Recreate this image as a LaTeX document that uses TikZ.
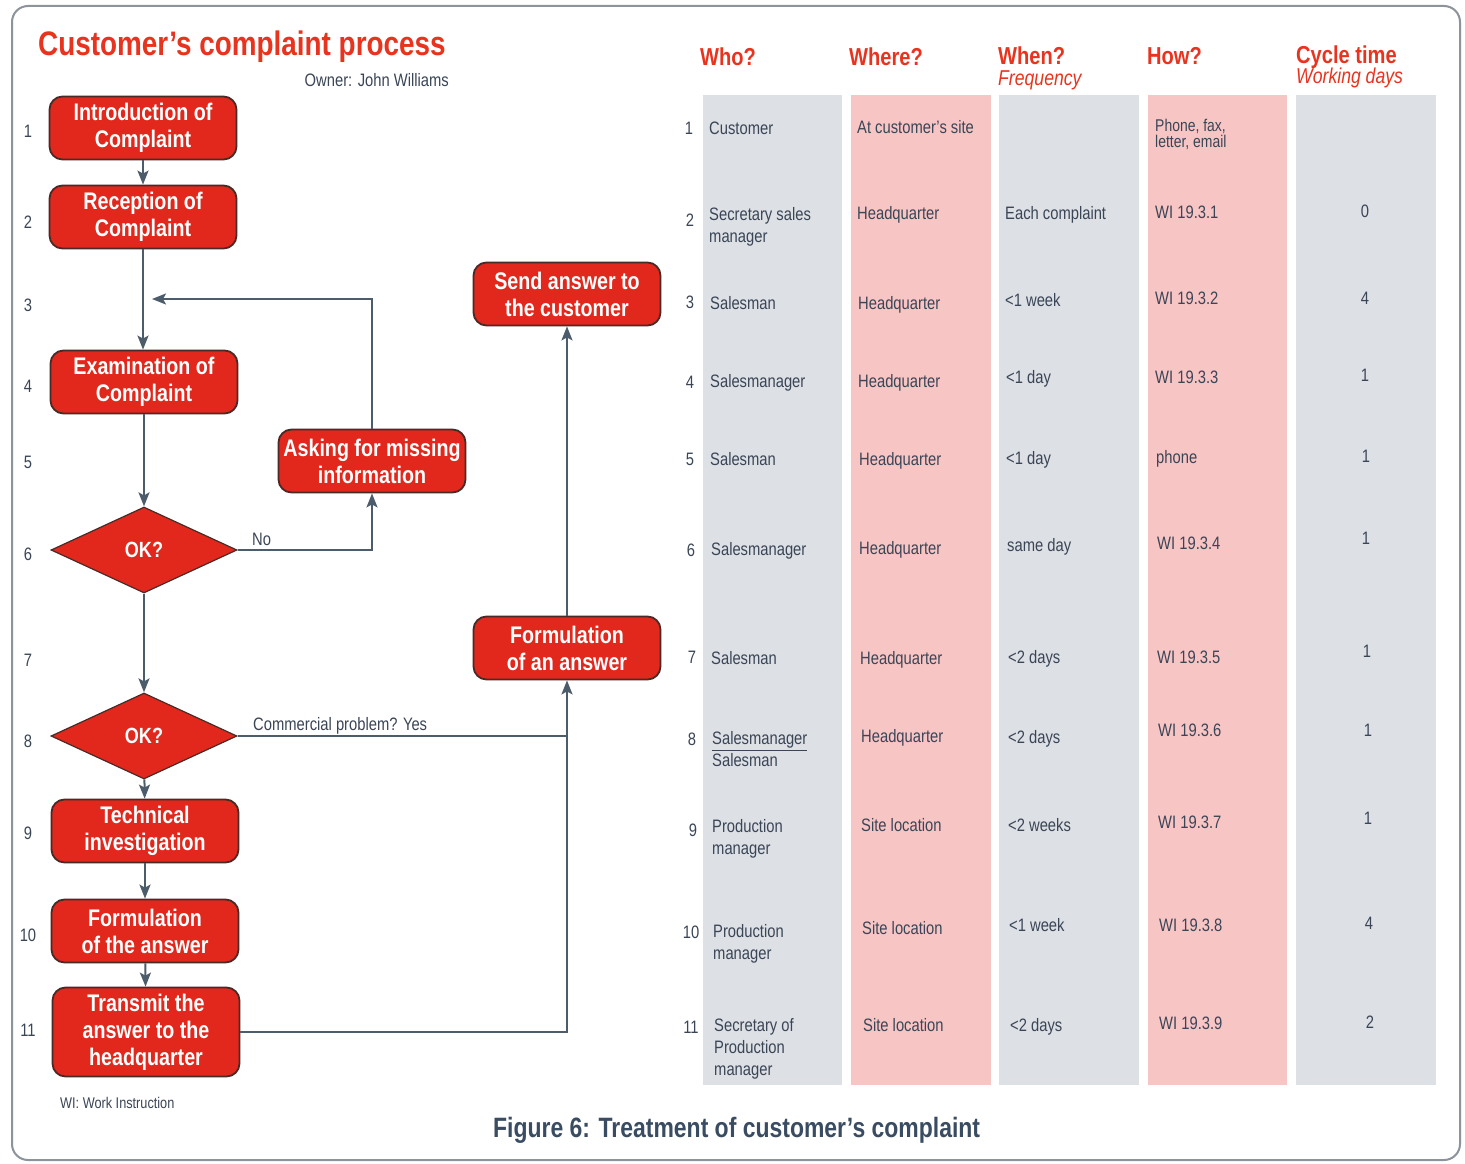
\documentclass[tikz,border=0pt]{standalone}
\usepackage{fontspec}
\setmainfont{Liberation Sans}[FakeStretch=0.82]
\usetikzlibrary{arrows.meta,shapes.geometric}

\definecolor{boxred}{HTML}{E2271C}
\definecolor{boxedge}{HTML}{4A2A26}
\definecolor{linegray}{HTML}{4D5C6B}
\definecolor{headred}{HTML}{E8341F}
\definecolor{txt}{HTML}{3A4556}
\definecolor{capblue}{HTML}{3A4C62}
\definecolor{stripgray}{HTML}{DDE0E5}
\definecolor{strippink}{HTML}{F8C5C5}
\definecolor{framegray}{HTML}{8C939B}

\newcommand\setfs[2]{\fontsize{#1}{#2}\selectfont}

\tikzset{
  proc/.style={draw=boxedge, line width=1.8pt, fill=boxred, rounded corners=13pt,
    minimum width=187pt, minimum height=63pt, align=center, text=white,
    font=\bfseries\setfs{24}{27}, inner sep=0pt},
  decide/.style={diamond, aspect=2.16, draw=boxedge, line width=1.2pt, fill=boxred,
    minimum width=186pt, minimum height=86pt, inner sep=0pt, text=white,
    font=\bfseries\setfs{22}{26}},
  conn/.style={draw=linegray, line width=2pt},
  arr/.style={conn, -{Stealth[length=14pt,width=11pt,inset=3pt]}},
  lbl/.style={inner sep=0pt, text=txt, font=\setfs{18}{22}},
  rownum/.style={anchor=north, inner sep=0pt, yshift=6.5pt, text=txt, font=\setfs{18}{22}},
  cell/.style={anchor=north west, inner sep=0pt, yshift=6.5pt, align=left,
    text=txt, font=\setfs{18}{22}},
  cnum/.style={anchor=north, inner sep=0pt, yshift=6.5pt, text=txt, font=\setfs{18}{22}},
  head/.style={anchor=base west, inner sep=0pt, text=headred, font=\bfseries\setfs{24.5}{28}},
  subhead/.style={anchor=base west, inner sep=0pt, text=headred, font=\itshape\setfs{21.5}{24}},
}

\begin{document}
\begin{tikzpicture}[x=1pt, y=-1pt]
\useasboundingbox (0,0) rectangle (1465,1164);
\fill[white] (0,0) rectangle (1465,1164);
\draw[framegray, line width=2pt, rounded corners=16pt] (12,6) rectangle (1460,1160);

% title block
\node[anchor=base west, inner sep=0pt, text=headred, font=\bfseries\setfs{34}{40}]
  (title) at (38,56) {Customer’s complaint process};
\node[anchor=base east, inner sep=0pt, text=txt, font=\setfs{18}{22}]
  (owner) at (449,87) {Owner: John Williams};

% column strips of the table
\fill[stripgray] (703,95) rectangle (842,1085);
\fill[strippink] (851,95) rectangle (991,1085);
\fill[stripgray] (999,95) rectangle (1139,1085);
\fill[strippink] (1148,95) rectangle (1287,1085);
\fill[stripgray] (1296,95) rectangle (1436,1085);

% column headings
\node[head] (hwho) at (700,66) {Who?};
\node[head] (hwhere) at (849,66) {Where?};
\node[head] (hwhen) at (998,65) {When?};
\node[subhead] (hfreq) at (998,85) {Frequency};
\node[head] (hhow) at (1147,65) {How?};
\node[head] (hcyc) at (1296,64) {Cycle time};
\node[subhead] (hwd) at (1296,84) {Working days};

% step numbers of the flow chart
\foreach \n/\y in {1/131,2/222,3/305,4/386,5/462,6/554,7/660,8/741,9/833,10/935,11/1030}
  \node[rownum] (ln\n) at (28,\y) {\n};

% process steps
\node[proc] (s1) at (143,128) {Introduction of\\Complaint};
\node[proc] (s2) at (143,217) {Reception of\\Complaint};
\node[proc] (s4) at (144,382) {Examination of\\Complaint};
\node[decide] (d6) at (144,550) {OK?};
\node[decide] (d8) at (144,736) {OK?};
\node[proc] (s9) at (145,831) {Technical\\investigation};
\node[proc] (s10) at (145,931) {Formulation\\of the answer};
\node[proc, minimum height=89pt] (s11) at (146,1032) {Transmit the\\answer to the\\headquarter};
\node[proc] (ask) at (372,461) {Asking for missing\\information};
\node[proc] (send) at (567,294) {Send answer to\\the customer};
\node[proc] (form) at (567,648) {Formulation\\of an answer};

% connectors
\coordinate (j3) at (152,299);
\draw[arr] (s1) -- (s2);
\draw[arr] (s2.south) -- (s4.north -| s2.south);
\draw[arr] (ask.north) |- (j3);
\draw[arr] (s4) -- (d6);
\draw[arr] (d6.east) -| (ask.south);
\node[lbl, anchor=base west] (no) at (252,545) {No};
\draw[arr] (d6) -- (d8);
\draw[conn] (d8.east) -- (d8.east -| form.south);
\node[lbl, anchor=base west] (yes) at (253,730) {Commercial problem? Yes};
\draw[arr] (d8) -- (s9);
\draw[arr] (s9) -- (s10);
\draw[arr] (s10) -- (s11);
\draw[arr] (s11.east) -| (form.south);
\draw[arr] (form) -- (send);

% table rows: number, who, where, when, how, cycle time
\node[rownum] (r1) at (689,128) {1};
\node[cell] (w1) at (709,128) {Customer};
\node[cell] (p1) at (857,127) {At customer’s site};
\node[cell, font=\setfs{17}{16}] (m1) at (1155,125) {Phone, fax,\\letter, email};

\node[rownum] (r2) at (690,220) {2};
\node[cell] (w2) at (709,214) {Secretary sales\\manager};
\node[cell] (p2) at (857,213) {Headquarter};
\node[cell] (t2) at (1005,213) {Each complaint};
\node[cell] (m2) at (1155,212) {WI 19.3.1};
\node[cnum] (c2) at (1365,211) {0};

\node[rownum] (r3) at (690,302) {3};
\node[cell] (w3) at (710,303) {Salesman};
\node[cell] (p3) at (858,303) {Headquarter};
\node[cell] (t3) at (1005,300) {<1 week};
\node[cell] (m3) at (1155,298) {WI 19.3.2};
\node[cnum] (c3) at (1365,298) {4};

\node[rownum] (r4) at (690,382) {4};
\node[cell] (w4) at (710,381) {Salesmanager};
\node[cell] (p4) at (858,381) {Headquarter};
\node[cell] (t4) at (1006,377) {<1 day};
\node[cell] (m4) at (1155,377) {WI 19.3.3};
\node[cnum] (c4) at (1365,375) {1};

\node[rownum] (r5) at (690,459) {5};
\node[cell] (w5) at (710,459) {Salesman};
\node[cell] (p5) at (859,459) {Headquarter};
\node[cell] (t5) at (1006,458) {<1 day};
\node[cell] (m5) at (1156,457) {phone};
\node[cnum] (c5) at (1366,456) {1};

\node[rownum] (r6) at (691,550) {6};
\node[cell] (w6) at (711,549) {Salesmanager};
\node[cell] (p6) at (859,548) {Headquarter};
\node[cell] (t6) at (1007,545) {same day};
\node[cell] (m6) at (1157,543) {WI 19.3.4};
\node[cnum] (c6) at (1366,538) {1};

\node[rownum] (r7) at (692,657) {7};
\node[cell] (w7) at (711,658) {Salesman};
\node[cell] (p7) at (860,658) {Headquarter};
\node[cell] (t7) at (1008,657) {<2 days};
\node[cell] (m7) at (1157,657) {WI 19.3.5};
\node[cnum] (c7) at (1367,651) {1};

\node[rownum] (r8) at (692,739) {8};
\node[cell] (w8) at (712,738) {\underline{Salesmanager}\\Salesman};
\node[cell] (p8) at (861,736) {Headquarter};
\node[cell] (t8) at (1008,737) {<2 days};
\node[cell] (m8) at (1158,730) {WI 19.3.6};
\node[cnum] (c8) at (1368,730) {1};

\node[rownum] (r9) at (693,830) {9};
\node[cell] (w9) at (712,826) {Production\\manager};
\node[cell] (p9) at (861,825) {Site location};
\node[cell] (t9) at (1008,825) {<2 weeks};
\node[cell] (m9) at (1158,822) {WI 19.3.7};
\node[cnum] (c9) at (1368,818) {1};

\node[rownum] (r10) at (691,932) {10};
\node[cell] (w10) at (713,931) {Production\\manager};
\node[cell] (p10) at (862,928) {Site location};
\node[cell] (t10) at (1009,925) {<1 week};
\node[cell] (m10) at (1159,925) {WI 19.3.8};
\node[cnum] (c10) at (1369,923) {4};

\node[rownum] (r11) at (691,1027) {11};
\node[cell] (w11) at (714,1025) {Secretary of\\Production\\manager};
\node[cell] (p11) at (863,1025) {Site location};
\node[cell] (t11) at (1010,1025) {<2 days};
\node[cell] (m11) at (1159,1023) {WI 19.3.9};
\node[cnum] (c11) at (1370,1022) {2};

% footnote and caption
\node[anchor=base west, inner sep=0pt, text=txt, font=\setfs{15.5}{18}]
  (wi) at (60,1108) {WI: Work Instruction};
\node[anchor=base west, inner sep=0pt, text=capblue, font=\bfseries\setfs{28}{32}]
  (caption) at (493,1137) {Figure 6: Treatment of customer’s complaint};
\end{tikzpicture}
\end{document}
